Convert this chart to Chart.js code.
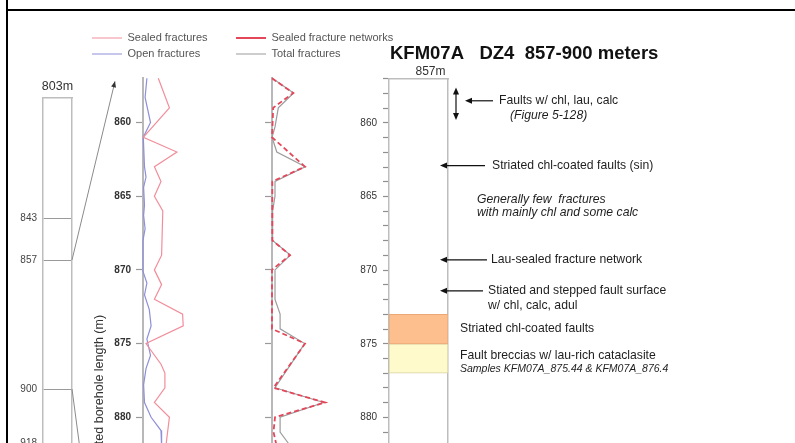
<!DOCTYPE html>
<html>
<head>
<meta charset="utf-8">
<title>KFM07A DZ4 857-900 meters</title>
<script src="https://cdn.jsdelivr.net/npm/chart.js@4.4.1/dist/chart.umd.min.js"></script>
<style>
  html, body { margin: 0; padding: 0; background: #fff; }
  #page { position: relative; width: 795px; height: 443px; overflow: hidden; background: #fff; }
  #page canvas { position: absolute; }
  .rule { position: absolute; background: #000; }
</style>
</head>
<body>
<div id="page">
  <div class="rule" style="left:6px;top:0;width:2px;height:443px"></div>
  <div class="rule" style="left:6px;top:9px;width:789px;height:2px"></div>
  <canvas id="overview" width="115" height="479" style="left:8px;top:60px"></canvas>
  <canvas id="fracs" width="139" height="692" style="left:83px;top:20px"></canvas>
  <canvas id="networks" width="184" height="692" style="left:226px;top:20px"></canvas>
  <canvas id="zone" width="455" height="712" style="left:340px;top:0px"></canvas>
</div>
<script>
// ---- data -------------------------------------------------------------
// Borehole interval shown in the detail logs (adjusted borehole length, m)
const depthTop = 857;
const depthBottom = 900;
const majorDepths = [860, 865, 870, 875, 880, 885, 890, 895, 900];

// Fracture frequency (fractures per metre) against depth (m)
const sealedDepth = [857, 859, 861, 862, 863, 864, 865, 866, 869, 870, 871, 872, 873, 873.8, 875, 876.4, 877, 878, 879, 880, 882];
const sealedFreq  = [5.1, 8.8, 0.1, 11.3, 3.8, 6.0, 3.8, 6.6, 6.2, 3.8, 6.2, 3.8, 13.2, 13.4, 1.0, 6.0, 7.3, 7.3, 3.8, 8.8, 7.6];

const openDepth = [857, 858.3, 860, 861, 863, 863.7, 864.4, 865.6, 866.3, 867.2, 868, 870.1, 870.9, 871.7, 872.7, 873.8, 874.7, 875.8, 876.7, 877.8, 879, 880, 880.9, 882];
const openFreq  = [1.3, 0.7, 2.5, 0.1, 0.5, 1.0, 0.2, 0.5, 0.2, 0.7, 0, 0, 1.3, 0.5, 2.1, 2.7, 1.3, 2.5, 1.0, 0.2, 0.5, 2.7, 6.0, 6.2];

const networkDepth = [857, 858, 859, 861, 863, 864, 868, 869, 870, 874, 875, 878, 879, 880, 881, 882];
const networkFreq  = [0, 7.1, 0.4, 0, 11.0, 0.1, 0.1, 6.0, 0, 0, 11.0, 0.5, 17.7, 1.0, 0.5, 1.6];

const totalDepth = [857, 858, 859, 860.3, 861, 862, 863, 864, 865, 866, 868, 869, 870, 872, 873, 874, 875, 878, 879, 880, 881, 882];
const totalFreq  = [0.1, 7.2, 2.1, 1.0, 0, 1.6, 11.1, 1.0, 1.0, 0.2, 0.2, 6.1, 1.0, 1.0, 2.7, 2.7, 10.9, 1.0, 17.2, 2.7, 2.7, 6.3];

// Deformation-zone intervals in the zone log (from, to in m)
const zoneNames = ['Striated chl-coated faults', 'Fault breccias w/ lau-rich cataclasite'];
const zoneFrom = [873, 875];
const zoneTo = [875, 877];

// Observations written beside the zone log
const noteText = [
  'Faults w/ chl, lau, calc',
  '(Figure 5-128)',
  'Striated chl-coated faults (sin)',
  'Generally few  fractures',
  'with mainly chl and some calc',
  'Lau-sealed fracture network',
  'Stiated and stepped fault surface',
  'w/ chl, calc, adul',
  'Striated chl-coated faults',
  'Fault breccias w/ lau-rich cataclasite',
  'Samples KFM07A_875.44 & KFM07A_876.4'
];
const noteDepth = [858.5, 859.5, 862.9, 865.2, 866.1, 869.3, 871.4, 872.4, 873.95, 875.8, 876.7];
const faultSpan = [857.6, 859.8];

// Whole-borehole overview (m)
const overviewTop = 803;
const overviewBottom = 950;
const overviewMarks = [843, 857, 900, 918];

const zoneTitle = 'KFM07A   DZ4  857-900 meters';

// ---- shared settings ----------------------------------------------------
const FONT = '"Liberation Sans", Arial, Helvetica, sans-serif';
Chart.defaults.font.family = FONT;
Chart.defaults.color = '#333';
Chart.defaults.animation = false;
Chart.defaults.responsive = false;
Chart.defaults.devicePixelRatio = 1;
Chart.defaults.events = [];
Chart.defaults.plugins.tooltip.enabled = false;

const pts = (depths, values) => depths.map((d, i) => ({ x: values[i], y: d }));
const majorTickList = () => majorDepths.map(v => ({ value: v }));
const metreTickList = () => {
  const t = [];
  for (let d = depthTop; d <= depthBottom; d++) t.push({ value: d });
  return t;
};
// depth axes run edge to edge: no extra room for half tick labels
const fixWidth = (w) => (s) => { s.width = w; s.paddingTop = 0; s.paddingBottom = 0; };

const legendLabels = {
  usePointStyle: true,
  pointStyle: 'line',
  pointStyleWidth: 30,
  boxHeight: 8,
  padding: 5,
  color: '#555',
  font: { size: 11 }
};

const hiddenTopAxis = (h, max) => ({
  type: 'linear', position: 'top', min: 0, max: max,
  grid: { display: false, drawTicks: false },
  border: { display: false },
  ticks: { display: false },
  afterFit: s => { s.height = h; }
});

const depthAxis = (width, withLabels) => ({
  type: 'linear', min: depthTop, max: depthBottom, reverse: true,
  afterBuildTicks: s => { s.ticks = majorTickList(); },
  grid: { drawOnChartArea: false, drawTicks: true, tickLength: 7, color: '#9a9a9a', tickWidth: 1.2 },
  border: { display: true, color: '#b8b8b8', width: 2 },
  ticks: { display: withLabels, padding: 5, color: '#333', font: { size: 10, weight: 'bold' } },
  afterFit: fixWidth(width)
});

// ---- fracture frequency log ---------------------------------------------
const fracAxis = depthAxis(56, true);
fracAxis.title = {
  display: true, text: 'Adjusted borehole length (m)', color: '#333',
  font: { size: 12.5 }, padding: { top: 5.5, bottom: 0 }
};

const fracChart = new Chart(document.getElementById('fracs'), {
  type: 'scatter',
  data: {
    datasets: [
      { label: 'Sealed fractures', data: pts(sealedDepth, sealedFreq), showLine: true,
        borderColor: '#f18e9b', backgroundColor: '#f18e9b', borderWidth: 1.2, pointRadius: 0, clip: false },
      { label: 'Open fractures', data: pts(openDepth, openFreq), showLine: true,
        borderColor: '#8e8fd8', backgroundColor: '#8e8fd8', borderWidth: 1.2, pointRadius: 0, clip: false }
    ]
  },
  options: {
    layout: { padding: { left: 4, top: 7.5, right: 0, bottom: 0 } },
    plugins: { legend: { position: 'top', align: 'start', labels: legendLabels } },
    scales: { x: hiddenTopAxis(8.8, 26.33), y: fracAxis }
  }
});

// ---- fracture network log ---------------------------------------------------
const netChart = new Chart(document.getElementById('networks'), {
  type: 'scatter',
  data: {
    datasets: [
      { label: 'Sealed fracture networks', data: pts(networkDepth, networkFreq), showLine: true,
        borderColor: '#e4475a', backgroundColor: '#e4475a', borderWidth: 1.8, borderDash: [5, 3],
        pointRadius: 0, clip: false },
      { label: 'Total fractures', data: pts(totalDepth, totalFreq), showLine: true,
        borderColor: '#9c9c9c', backgroundColor: '#9c9c9c', borderWidth: 1.2, pointRadius: 0, clip: false }
    ]
  },
  options: {
    layout: { padding: { left: 5, top: 7.5, right: 0, bottom: 0 } },
    plugins: { legend: { position: 'top', align: 'start', labels: legendLabels } },
    scales: { x: hiddenTopAxis(8.8, 46), y: depthAxis(41, false) }
  }
});

// ---- zone log with notes -------------------------------------------------
function arrowLeft(ctx, xFrom, xTo, y) {
  ctx.beginPath();
  ctx.moveTo(xFrom, y);
  ctx.lineTo(xTo + 5, y);
  ctx.stroke();
  ctx.beginPath();
  ctx.moveTo(xTo, y);
  ctx.lineTo(xTo + 7, y - 3);
  ctx.lineTo(xTo + 7, y + 3);
  ctx.closePath();
  ctx.fill();
}

function arrowHeadVertical(ctx, x, y, dir) {
  ctx.beginPath();
  ctx.moveTo(x, y);
  ctx.lineTo(x - 3, y + dir * 7);
  ctx.lineTo(x + 3, y + dir * 7);
  ctx.closePath();
  ctx.fill();
}

// horizontal placement of each note relative to the right edge of the log
const noteLayout = [
  { dx: 51, arrow: [45, 17] },
  { dx: 62, italic: true },
  { dx: 44, arrow: [37, -8] },
  { dx: 29, italic: true },
  { dx: 29, italic: true },
  { dx: 43, arrow: [39, -8] },
  { dx: 40, arrow: [35, -8] },
  { dx: 40 },
  { dx: 12 },
  { dx: 12 },
  { dx: 12, italic: true, size: 10.5 }
];

const zoneNotes = {
  id: 'zoneNotes',
  afterDraw(chart) {
    const { ctx, chartArea: a } = chart;
    const y = chart.scales.y;
    ctx.save();
    ctx.textBaseline = 'middle';
    ctx.textAlign = 'left';
    ctx.fillStyle = '#111';
    ctx.font = `bold 18.5px ${FONT}`;
    ctx.fillText(zoneTitle, a.left + 1, 54);

    ctx.strokeStyle = '#111';
    ctx.lineWidth = 1.2;
    noteText.forEach((t, i) => {
      const s = noteLayout[i];
      const py = y.getPixelForValue(noteDepth[i]);
      ctx.fillStyle = '#1e1e1e';
      ctx.font = `${s.italic ? 'italic ' : ''}${s.size || 12.2}px ${FONT}`;
      ctx.fillText(t, a.right + s.dx, py);
      if (s.arrow) {
        ctx.fillStyle = '#111';
        arrowLeft(ctx, a.right + s.arrow[0], a.right + s.arrow[1], py);
      }
    });

    // extent of the faults with chl, lau, calc
    const x = a.right + 8;
    const y1 = y.getPixelForValue(faultSpan[0]);
    const y2 = y.getPixelForValue(faultSpan[1]);
    ctx.fillStyle = '#111';
    ctx.beginPath();
    ctx.moveTo(x, y1 + 5);
    ctx.lineTo(x, y2 - 5);
    ctx.stroke();
    arrowHeadVertical(ctx, x, y1, 1);
    arrowHeadVertical(ctx, x, y2, -1);
    ctx.restore();
  }
};

new Chart(document.getElementById('zone'), {
  type: 'bar',
  data: {
    labels: ['857m'],
    datasets: [
      { label: zoneNames[0], data: [[zoneFrom[0], zoneTo[0]]], backgroundColor: '#fdbf8d',
        borderColor: '#eaa877', borderWidth: 1, borderSkipped: false, grouped: false,
        barPercentage: 1, categoryPercentage: 1 },
      { label: zoneNames[1], data: [[zoneFrom[1], zoneTo[1]]], backgroundColor: '#fffacb',
        borderColor: '#d6d0a2', borderWidth: 1, borderSkipped: false, grouped: false,
        barPercentage: 1, categoryPercentage: 1 }
    ]
  },
  options: {
    layout: { padding: { left: 0, top: 0, right: 347, bottom: 0 } },
    plugins: { legend: { display: false } },
    scales: {
      x: {
        position: 'top',
        grid: { display: false, drawTicks: false },
        border: { display: true, color: '#bdbdbd', width: 1.5 },
        ticks: { padding: 0, labelOffset: 12, color: '#333', font: { size: 12 } },
        afterFit: s => { s.height = 78.7; }
      },
      y: {
        type: 'linear', min: depthTop, max: depthBottom, reverse: true,
        afterBuildTicks: s => { s.ticks = metreTickList(); },
        ticks: {
          autoSkip: false, padding: 6, color: '#333', font: { size: 10 },
          callback: v => (majorDepths.includes(v) ? String(v) : '')
        },
        grid: { drawOnChartArea: false, drawTicks: true, tickLength: 6, color: '#8f8f8f', tickWidth: 1.2 },
        border: { display: true, color: '#bdbdbd', width: 1.5 },
        afterFit: fixWidth(49)
      },
      y2: {
        type: 'linear', position: 'right', min: depthTop, max: depthBottom, reverse: true,
        grid: { display: false, drawTicks: false },
        ticks: { display: false },
        border: { display: true, color: '#bdbdbd', width: 1.5 },
        afterFit: fixWidth(0)
      }
    }
  },
  plugins: [zoneNotes]
});

// ---- borehole overview with links to the detailed interval ---------------
const zoomLinks = {
  id: 'zoomLinks',
  afterDraw(chart) {
    const { ctx, chartArea: a } = chart;
    const y = chart.scales.y;
    const detailY = fracChart.scales.y;
    const dy = fracChart.canvas.offsetTop - chart.canvas.offsetTop;
    const dx = fracChart.canvas.offsetLeft - chart.canvas.offsetLeft;
    const tx = fracChart.chartArea.left + dx - 28;
    ctx.save();
    ctx.strokeStyle = '#8a8a8a';
    ctx.fillStyle = '#333';
    ctx.lineWidth = 1;
    [depthTop, depthBottom].forEach((d, i) => {
      const sx = a.right, sy = y.getPixelForValue(d);
      const ex = tx, ey = detailY.getPixelForValue(d) + dy + (i === 0 ? 3 : 0);
      ctx.beginPath();
      ctx.moveTo(sx, sy);
      ctx.lineTo(ex, ey);
      ctx.stroke();
      if (i === 0) {
        const ang = Math.atan2(ey - sy, ex - sx);
        ctx.save();
        ctx.translate(ex, ey);
        ctx.rotate(ang);
        ctx.beginPath();
        ctx.moveTo(0, 0);
        ctx.lineTo(-6, -2.5);
        ctx.lineTo(-6, 2.5);
        ctx.closePath();
        ctx.fill();
        ctx.restore();
      }
    });
    ctx.restore();
  }
};

new Chart(document.getElementById('overview'), {
  type: 'bar',
  data: { labels: [overviewTop + 'm'], datasets: [] },
  options: {
    layout: { padding: { left: 0, top: 0, right: 51, bottom: 0 } },
    plugins: { legend: { display: false } },
    scales: {
      x: {
        position: 'top',
        grid: { display: false, drawTicks: false },
        border: { display: true, color: '#bdbdbd', width: 1.5 },
        ticks: { padding: 3.5, color: '#333', font: { size: 12.5 } },
        afterFit: s => { s.height = 38; }
      },
      y: {
        type: 'linear', min: overviewTop, max: overviewBottom, reverse: true,
        afterBuildTicks: s => { s.ticks = overviewMarks.map(v => ({ value: v })); },
        grid: { drawOnChartArea: true, drawTicks: false, color: '#9a9a9a', lineWidth: 1 },
        border: { display: true, color: '#bdbdbd', width: 1.5 },
        ticks: { padding: 6, color: '#444', font: { size: 10 } },
        afterFit: fixWidth(35)
      },
      y2: {
        type: 'linear', position: 'right', min: overviewTop, max: overviewBottom, reverse: true,
        grid: { display: false, drawTicks: false },
        ticks: { display: false },
        border: { display: true, color: '#bdbdbd', width: 1.5 },
        afterFit: fixWidth(0)
      }
    }
  },
  plugins: [zoomLinks]
});
</script>
</body>
</html>
